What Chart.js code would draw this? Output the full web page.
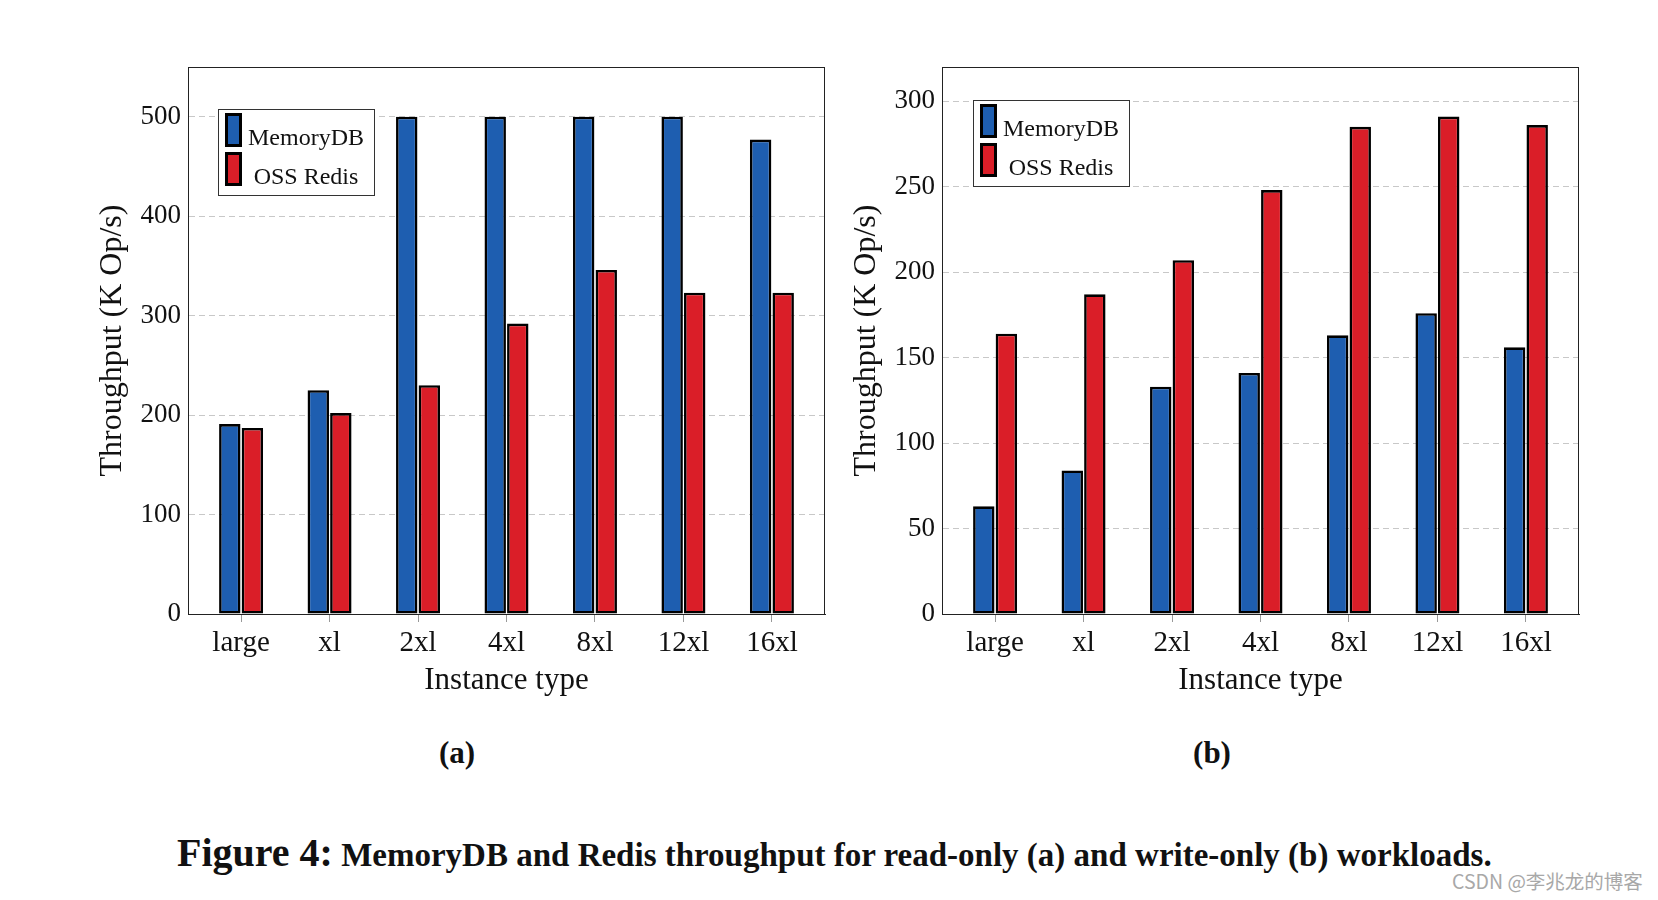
<!DOCTYPE html>
<html>
<head>
<meta charset="utf-8">
<script src="https://cdn.jsdelivr.net/npm/chart.js@4.4.1/dist/chart.umd.min.js"></script>
<style>
  body { margin: 0; background: #fff; width: 1658px; height: 900px; position: relative; overflow: hidden; }
  .box { position: absolute; top: 0; height: 720px; }
  #boxA { left: 0; width: 830px; }
  #boxB { left: 830px; width: 828px; }
  .sub { position: absolute; top: 735px; font: bold 31px "Liberation Serif", serif; color: #111; transform: translateX(-50%); }
  #caption { position: absolute; left: 177px; top: 829px; font: bold 33px "Liberation Serif", serif; color: #111; white-space: nowrap; }
  #caption .big { font-size: 40px; }
  #mark { position: absolute; left: 1452px; top: 866px; font: 19.5px "Noto Sans CJK SC", sans-serif; color: #a8a8a8; white-space: nowrap; }
</style>
</head>
<body>
<div class="box" id="boxA"><canvas id="chartA"></canvas></div>
<div class="box" id="boxB"><canvas id="chartB"></canvas></div>
<div class="sub" style="left:457px">(a)</div>
<div class="sub" style="left:1212px">(b)</div>
<div id="caption"><span class="big">Figure 4:</span> MemoryDB and Redis throughput for read-only (a) and write-only (b) workloads.</div>
<div id="mark">CSDN @李兆龙的博客</div>
<script>
// instance types on the x axis
const categories = ['large', 'xl', '2xl', '4xl', '8xl', '12xl', '16xl'];
const seriesNames = ['MemoryDB', 'OSS Redis'];

// (a) read-only, K Op/s
const readMemoryDB = [191, 225, 500, 500, 500, 500, 477];
const readRedis = [187, 202, 230, 292, 346, 323, 323];

// (b) write-only, K Op/s
const writeMemoryDB = [63, 84, 133, 141, 163, 176, 156];
const writeRedis = [164, 187, 207, 248, 285, 291, 286];

const blue = '#1e5eb0';
const red = '#da1e28';
const serif = '"Liberation Serif", "Times New Roman", serif';

// frame round the plot area, like pgfplots
const framePlugin = {
    id: 'frame',
    afterDatasetsDraw(chart) {
        const a = chart.chartArea;
        const ctx = chart.ctx;
        ctx.save();
        ctx.strokeStyle = '#222';
        ctx.lineWidth = 1;
        ctx.strokeRect(Math.round(a.left) + 0.5, Math.round(a.top) + 0.5,
            Math.round(a.right - a.left) - 1, Math.round(a.bottom - a.top));
        ctx.restore();
    }
};

// legend drawn inside the plot area
const boxLegend = {
    id: 'boxLegend',
    afterDraw(chart, args, opts) {
        const ctx = chart.ctx;
        const x = chart.chartArea.left + opts.dx;
        const y = chart.chartArea.top + opts.dy;
        const w = 156, h = 86;
        ctx.save();
        ctx.fillStyle = '#fff';
        ctx.fillRect(x, y, w, h);
        ctx.strokeStyle = '#333';
        ctx.lineWidth = 1;
        ctx.strokeRect(x + 0.5, y + 0.5, w, h);
        chart.data.datasets.forEach((ds, i) => {
            const sy = y + 4 + i * 39;
            ctx.fillStyle = '#000';
            ctx.fillRect(x + 7, sy, 17, 34);
            ctx.fillStyle = ds.backgroundColor;
            ctx.fillRect(x + 10, sy + 3, 11, 28);
            ctx.fillStyle = '#111';
            ctx.font = '24px ' + serif;
            ctx.textAlign = 'center';
            ctx.textBaseline = 'alphabetic';
            ctx.fillText(ds.label, x + 88, sy + 32);
        });
        ctx.restore();
    }
};

function makeChart(id, memVals, redisVals, yMax, yStep, yWidth, titlePad, padRight, legendPos) {
    const toPoints = vals => categories.map((c, i) => ({ x: i, y: vals[i] }));
    return new Chart(document.getElementById(id), {
        type: 'bar',
        data: {
            datasets: [
                { label: seriesNames[0], data: toPoints(memVals), backgroundColor: blue },
                { label: seriesNames[1], data: toPoints(redisVals), backgroundColor: red }
            ]
        },
        options: {
            responsive: true,
            maintainAspectRatio: false,
            animation: false,
            layout: { padding: { top: 67, right: padRight, left: 0, bottom: 0 } },
            datasets: {
                bar: {
                    borderColor: '#000',
                    borderWidth: 2.6,
                    borderSkipped: false,
                    categoryPercentage: 0.51,
                    barPercentage: 0.95
                }
            },
            plugins: {
                legend: { display: false },
                tooltip: { enabled: false },
                boxLegend: legendPos
            },
            scales: {
                x: {
                    type: 'linear',
                    min: -0.6,
                    max: 6.6,
                    offset: false,
                    grid: { drawOnChartArea: false, drawTicks: true, tickLength: 8, tickColor: '#999', offset: false },
                    border: { display: true, color: '#222' },
                    ticks: {
                        stepSize: 1,
                        includeBounds: false,
                        padding: 4,
                        color: '#111',
                        font: { family: serif, size: 29 },
                        callback: v => categories[v] !== undefined ? categories[v] : ''
                    },
                    title: {
                        display: true,
                        text: 'Instance type',
                        color: '#111',
                        font: { family: serif, size: 31 },
                        padding: { top: 0, bottom: 21 }
                    },
                    afterFit: s => { s.height = 106; }
                },
                y: {
                    min: 0,
                    max: yMax,
                    grid: {
                        drawTicks: false,
                        color: c => c.tick && c.tick.value === 0 ? 'transparent' : '#c8c8c8'
                    },
                    border: { display: true, color: '#222', dash: [6, 4] },
                    ticks: {
                        stepSize: yStep,
                        includeBounds: false,
                        padding: 7,
                        color: '#111',
                        font: { family: serif, size: 27 }
                    },
                    title: {
                        display: true,
                        text: 'Throughput (K Op/s)',
                        color: '#111',
                        font: { family: serif, size: 32 },
                        padding: { top: titlePad, bottom: 0 }
                    },
                    afterFit: s => { s.width = yWidth; }
                }
            }
        },
        plugins: [framePlugin, boxLegend]
    });
}

makeChart('chartA', readMemoryDB, readRedis, 550, 100, 188, 93, 5, { dx: 30, dy: 42 });
makeChart('chartB', writeMemoryDB, writeRedis, 320, 50, 112, 17, 79, { dx: 31, dy: 33 });
</script>
</body>
</html>
